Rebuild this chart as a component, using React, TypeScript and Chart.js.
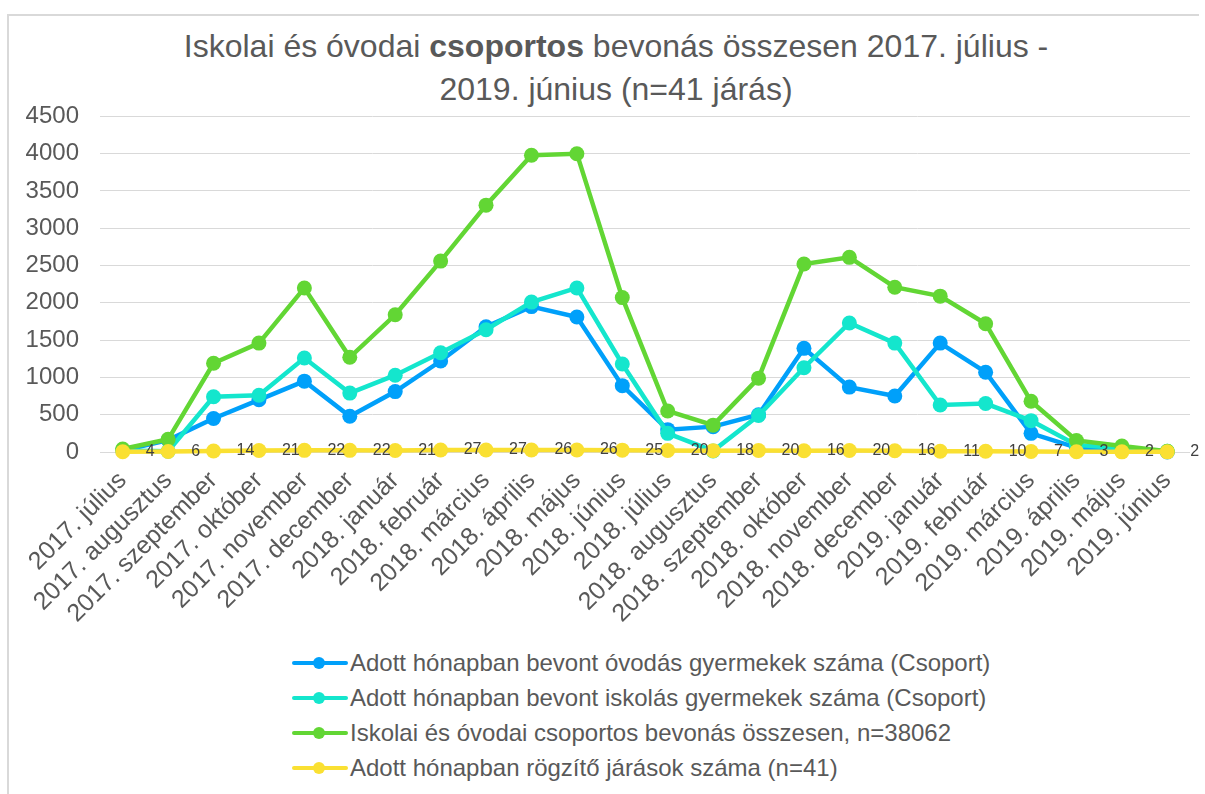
import React, { useEffect, useRef } from "react";
import { Chart, registerables } from "chart.js";

Chart.register(...registerables);

const months = [
  "2017. július", "2017. augusztus", "2017. szeptember", "2017. október", "2017. november", "2017. december",
  "2018. január", "2018. február", "2018. március", "2018. április", "2018. május", "2018. június",
  "2018. július", "2018. augusztus", "2018. szeptember", "2018. október", "2018. november", "2018. december",
  "2019. január", "2019. február", "2019. március", "2019. április", "2019. május", "2019. június",
];

const ovodas = [20, 160, 450, 700, 950, 480, 810, 1220, 1680, 1950, 1810, 890, 300, 340, 500, 1390, 870, 750, 1460, 1070, 250, 60, 30, 0];
const iskolas = [20, 10, 740, 760, 1260, 790, 1030, 1330, 1640, 2010, 2200, 1180, 250, 15, 490, 1130, 1730, 1460, 630, 650, 420, 95, 50, 10];
const osszesen = [40, 170, 1190, 1460, 2200, 1270, 1840, 2560, 3310, 3980, 4000, 2070, 550, 360, 990, 2520, 2610, 2210, 2090, 1720, 680, 155, 80, 10];
const jarasok = [4, 6, 14, 21, 22, 22, 21, 27, 27, 26, 26, 25, 20, 18, 20, 16, 20, 16, 11, 10, 7, 3, 2, 2];

const seriesNames = [
  "Adott hónapban bevont óvodás gyermekek száma (Csoport)",
  "Adott hónapban bevont iskolás gyermekek száma (Csoport)",
  "Iskolai és óvodai csoportos bevonás összesen, n=38062",
  "Adott hónapban rögzítő járások száma (n=41)",
];
const seriesColors = ["#00A0FA", "#14E6CD", "#62D634", "#FAE032"];

const yMin = 0;
const yMax = 4500;
const yStep = 500;

const FONT = '"Liberation Sans", Arial, sans-serif';
const TEXT = "#595959";

const labelPlugin = {
  id: "yellowLabels",
  afterDatasetsDraw(chart: any) {
    const meta = chart.getDatasetMeta(3);
    const ctx = chart.ctx;
    ctx.save();
    ctx.font = `16px ${FONT}`;
    ctx.fillStyle = "#404040";
    ctx.textBaseline = "middle";
    ctx.textAlign = "left";
    meta.data.forEach((pt: any, i: number) => {
      ctx.fillText(String(jarasok[i]), pt.x + 23, pt.y);
    });
    ctx.restore();
  },
};

export default function App() {
  const ref = useRef<HTMLCanvasElement | null>(null);

  useEffect(() => {
    if (!ref.current) return;
    const all = [ovodas, iskolas, osszesen, jarasok];
    const chart = new Chart(ref.current, {
      type: "line",
      data: {
        labels: months,
        datasets: all.map((d, i) => ({
          label: seriesNames[i],
          data: d,
          borderColor: seriesColors[i],
          backgroundColor: seriesColors[i],
          pointBackgroundColor: seriesColors[i],
          pointBorderWidth: 0,
          pointRadius: 7.5,
          pointHoverRadius: 7.5,
          borderWidth: 4.5,
          tension: 0,
          clip: false as any,
          order: 4 - i,
        })),
      },
      options: {
        responsive: false,
        animation: false,
        devicePixelRatio: 1,
        layout: { padding: { top: 34, right: 15, left: 0, bottom: 0 } },
        plugins: {
          legend: { display: false },
          title: { display: false },
          tooltip: { enabled: false },
        },
        scales: {
          x: {
            type: "category",
            offset: true,
            grid: { display: false },
            border: { display: false },
            ticks: {
              autoSkip: false,
              maxRotation: 45,
              minRotation: 45,
              color: TEXT,
              font: { size: 25, family: FONT },
              padding: 6,
            },
            afterFit: (s: any) => {
              s.height = 189;
            },
          },
          y: {
            min: yMin,
            max: yMax,
            ticks: {
              stepSize: yStep,
              color: TEXT,
              font: { size: 24, family: FONT },
              padding: 21,
              callback: (v: any) => String(v),
            },
            grid: { color: "#d9d9d9", drawTicks: false, lineWidth: 1 },
            border: { display: false },
            afterFit: (s: any) => {
              s.width = 100;
            },
          },
        },
      },
      plugins: [labelPlugin],
    });
    return () => chart.destroy();
  }, []);

  return (
    <div
      style={{
        position: "absolute",
        left: 0,
        top: 0,
        width: 1205,
        height: 794,
        overflow: "hidden",
        background: "#fff",
        fontFamily: FONT,
      }}
    >
      <div
        style={{
          position: "absolute",
          left: 7,
          top: 14,
          width: 1192,
          height: 800,
          borderTop: "2px solid #d9d9d9",
          borderLeft: "2px solid #d9d9d9",
          boxSizing: "border-box",
        }}
      />
      <div
        style={{
          position: "absolute",
          left: 0,
          top: 25,
          width: 1232,
          textAlign: "center",
          fontSize: 32,
          lineHeight: "43px",
          color: TEXT,
        }}
      >
        Iskolai és óvodai <b>csoportos</b> bevonás összesen 2017. július -
        <br />
        2019. június (n=41 járás)
      </div>
      <canvas
        ref={ref}
        width={1205}
        height={560}
        style={{ position: "absolute", left: 0, top: 81, width: 1205, height: 560 }}
      />
      <div style={{ position: "absolute", left: 292, top: 645, color: TEXT, fontSize: 24 }}>
        {seriesNames.map((n, i) => (
          <div key={i} style={{ display: "flex", alignItems: "center", height: 35, whiteSpace: "nowrap" }}>
            <span style={{ position: "relative", width: 56, height: 12, marginRight: 2, flex: "none" }}>
              <span
                style={{
                  position: "absolute",
                  left: 0,
                  right: 0,
                  top: 4,
                  height: 4,
                  borderRadius: 2,
                  background: seriesColors[i],
                }}
              />
              <span
                style={{
                  position: "absolute",
                  left: 21,
                  top: 0,
                  width: 12,
                  height: 12,
                  borderRadius: "50%",
                  background: seriesColors[i],
                }}
              />
            </span>
            <span>{n}</span>
          </div>
        ))}
      </div>
    </div>
  );
}
